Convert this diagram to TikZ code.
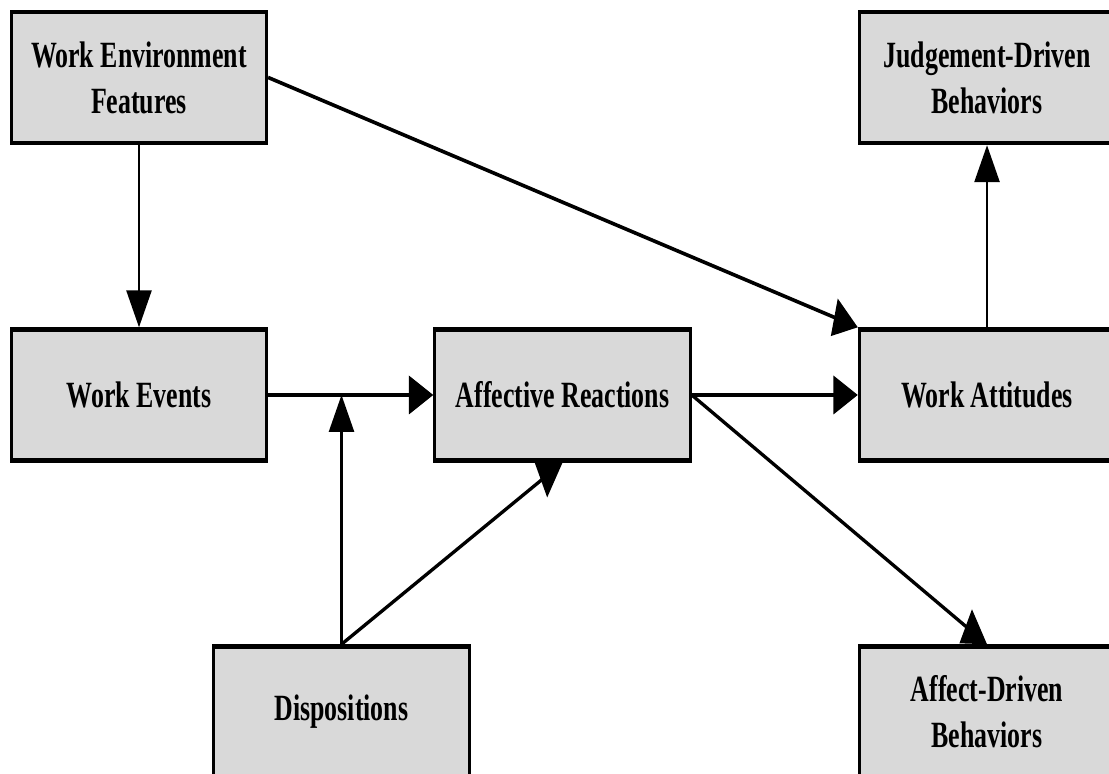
\documentclass[tikz,border=0pt]{standalone}
\usepackage{fontspec}
\usepackage{tikz}
\usetikzlibrary{arrows.meta}
\newfontfamily\boxfont{Liberation Serif}[FakeStretch=1.06]

\begin{document}
\begin{tikzpicture}[
    box/.style={draw, line width=2.2pt, fill=gray!30, minimum width=193.6pt,
        minimum height=65.5pt, inner sep=0pt, align=center,
        font=\boxfont\bfseries\fontsize{18.5}{23}\selectfont},
    link/.style={line width=1.9pt, -{Triangle[length=18.5pt,width=19pt]}}]
    \useasboundingbox (0,0) rectangle (554.5pt,-387pt);
    \begin{scope}[transform canvas={xscale=0.66}, x=0.7576pt, y=-0.5pt]
    \node[box] (wef) at (139,77.5) {Work Environment\\Features};
    \node[box] (jdb) at (987,77.5) {Judgement-Driven\\Behaviors};
    \node[box] (we) at (139,395) {Work Events};
    \node[box] (ar) at (562.5,395) {Affective Reactions};
    \node[box] (wa) at (987,395) {Work Attitudes};
    \node[box] (disp) at (341.5,712) {Dispositions};
    \node[box] (adb) at (987,712) {Affect-Driven\\Behaviors};
    \coordinate (mod) at (disp.north |- we.east);
    \draw[link] (wef.south) -- (we.north);
    \draw[link] (wef.east) -- (wa.north west);
    \draw[link] (we.east) -- (ar.west);
    \draw[link] (disp.north) -- (mod);
    \draw[link] (disp.north) -- (ar.south);
    \draw[link] (ar.east) -- (wa.west);
    \draw[link] (ar.east) -- (adb.north);
    \draw[link] (wa.north) -- (jdb.south);
    \end{scope}
\end{tikzpicture}
\end{document}
